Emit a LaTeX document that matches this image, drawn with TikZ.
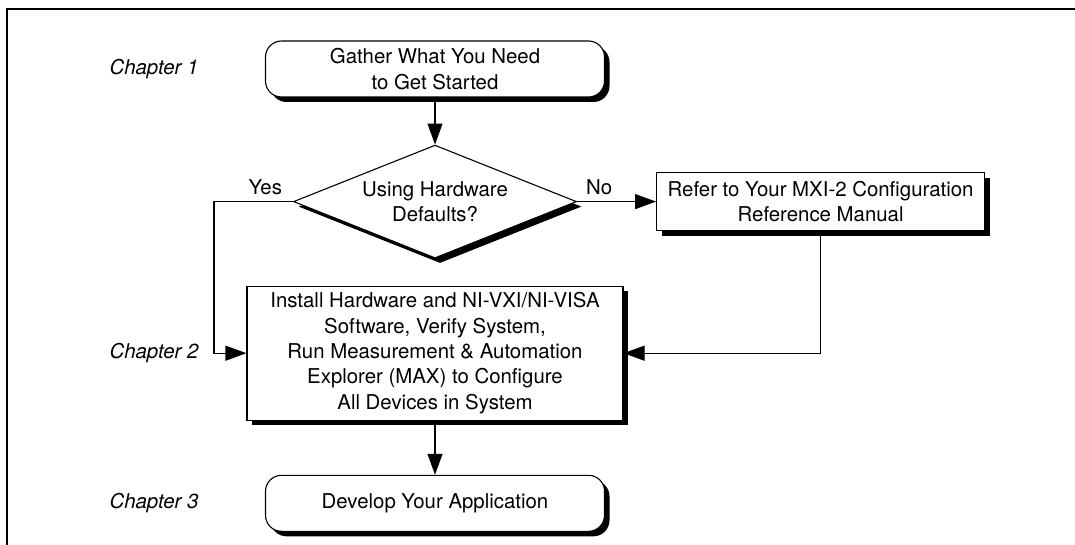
\documentclass[tikz,border=0pt]{standalone}
\usepackage{fontspec}
\setmainfont{TeX Gyre Heros}
\usetikzlibrary{positioning,arrows.meta,shapes,shapes.geometric,shadows}
\tikzset{
	every node/.style = {font=\fontsize{10.2}{12.7}\selectfont, inner sep = 3pt},
	>={Triangle[length=10.5pt,width=7.5pt]},
	every text node part/.style={align=center},
	shade/.style={drop shadow={shadow xshift=2.5pt, shadow yshift=-2.5pt, fill=black, opacity=1}},
	terminal/.style={draw, fill=white, rounded corners=8pt, minimum width=169.5pt, minimum height=28pt, shade},
	process/.style={draw, fill=white, shade},
	decision/.style={draw, fill=white, diamond, aspect=2.5, inner sep=0pt, minimum width=141.5pt, minimum height=56.5pt, shade},
	chapter/.style={anchor=west, font=\fontsize{10.2}{12.7}\selectfont\itshape},
	frame/.style={-, line width=1.4pt}
}

\begin{document}
\begin{tikzpicture}[->, line width=0.55pt]
		\useasboundingbox (0,0) rectangle (537.5pt,-272.5pt);
		\draw[frame] (537.5pt,-4.5pt) -- (3.5pt,-4.5pt) -- (3.5pt,-272.5pt);

		\node(start)[terminal] at (217.5pt,-34.5pt) {Gather What You Need\\to Get Started};
		\node(decide)[decision, below=23.5pt of start] {Using Hardware\\Defaults?};
		\node(refer)[process, right=39.5pt of decide, minimum width=164pt, minimum height=29pt] {Refer to Your MXI-2 Configuration\\Reference Manual};
		\node(install)[process, below=13.5pt of decide, minimum width=188pt, minimum height=67pt] {Install Hardware and NI-VXI/NI-VISA\\Software, Verify System,\\Run Measurement \& Automation\\Explorer (MAX) to Configure\\All Devices in System};
		\node(develop)[terminal, below=27pt of install] {Develop Your Application};

		\node(chap1)[chapter] at (51.5pt,-34.5pt) {Chapter 1};
		\node(chap2)[chapter] at (chap1.west |- install) {Chapter 2};
		\node(chap3)[chapter] at (chap1.west |- develop) {Chapter 3};

		\path (start) edge (decide);
		\path (decide) edge node[above, pos=0.28]{No} (refer);
		\draw (decide.west) -- node[above, pos=0.35]{Yes} ++(-39.5pt,0) |- (install.west);
		\draw (refer) |- (install);
		\path (install) edge (develop);
\end{tikzpicture}
\end{document}
